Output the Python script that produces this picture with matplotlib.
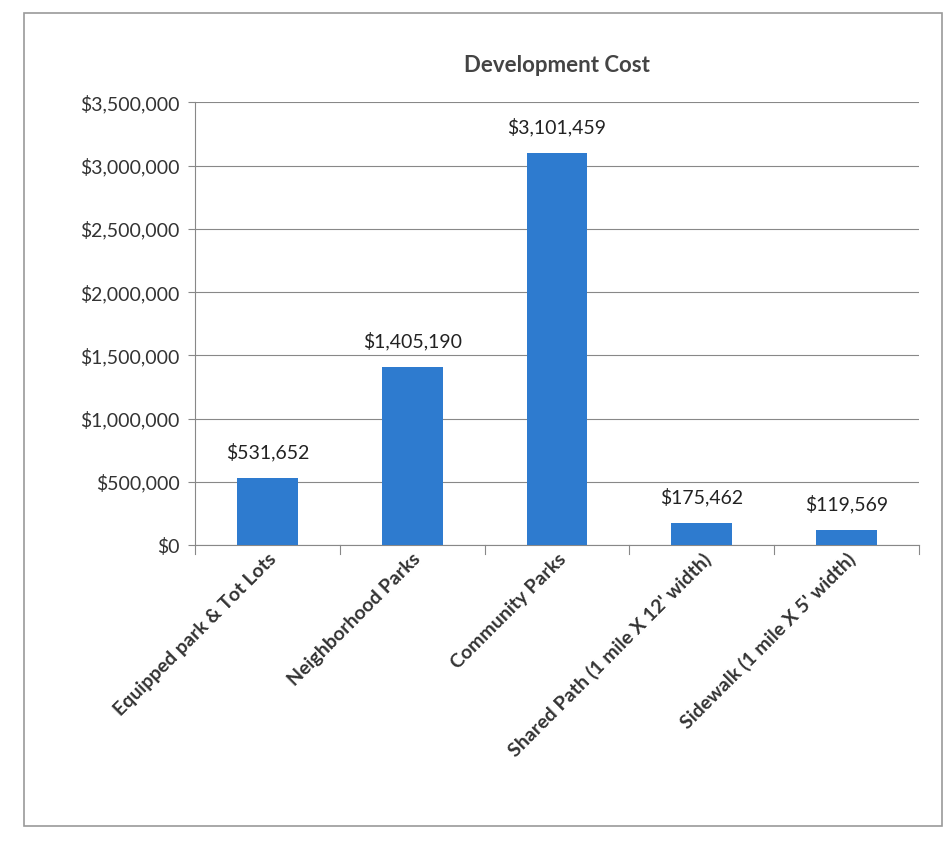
import matplotlib
matplotlib.use("Agg")
import matplotlib.pyplot as plt
from matplotlib.ticker import FuncFormatter, MultipleLocator
from matplotlib.patches import Rectangle

categories = ["Equipped park & Tot Lots", "Neighborhood Parks", "Community Parks",
              "Shared Path (1 mile X 12' width)", "Sidewalk (1 mile X 5' width)"]
values = [531652, 1405190, 3101459, 175462, 119569]

plt.rcParams['font.family'] = ['Lato', 'DejaVu Sans']

fig = plt.figure(figsize=(9.52, 8.52), dpi=100)
fig.patch.set_facecolor('white')
fig.add_artist(Rectangle((0.025, 0.03), 0.965, 0.955, transform=fig.transFigure,
                         fill=False, edgecolor='#9a9a9a', linewidth=1.2))

ax = fig.add_axes([0.205, 0.36, 0.76, 0.52])
x = range(len(categories))
bars = ax.bar(x, values, width=0.42, color='#2E7BCF', zorder=3)
ax.set_ylim(0, 3500000)
ax.set_xlim(-0.5, len(categories) - 0.5)
ax.yaxis.set_major_locator(MultipleLocator(500000))
ax.yaxis.set_major_formatter(FuncFormatter(lambda v, p: f"${v:,.0f}"))
ax.grid(axis='y', color='#888888', linewidth=0.8, zorder=0)
for s in ['top', 'right']:
    ax.spines[s].set_visible(False)
ax.spines['bottom'].set_color('#888888')
ax.spines['left'].set_color('#888888')
ax.spines['left'].set_linewidth(0.8)
ax.tick_params(axis='y', length=5, color='#888888', labelsize=14, pad=6, labelcolor='#333333')
ax.tick_params(axis='x', length=0, labelsize=14)
ax.set_xticks(list(x))
ax.set_xticklabels(categories, rotation=45, ha='right', rotation_mode='anchor',
                   fontweight='bold', color='#333333')
for xt in [i + 0.5 for i in range(-1, len(categories))]:
    ax.plot([xt, xt], [0, -70000], color='#888888', lw=0.8, clip_on=False)
for b, v in zip(bars, values):
    ax.annotate(f"${v:,.0f}", (b.get_x() + b.get_width() / 2, v),
                xytext=(0, 12), textcoords='offset points',
                ha='center', va='bottom', fontsize=14, color='#222222')
ax.set_title("Development Cost", fontsize=16, fontweight='bold', color='#444444', pad=22)

fig.savefig("out.png", dpi=100)
